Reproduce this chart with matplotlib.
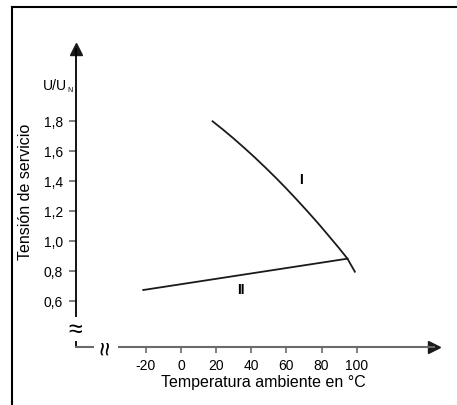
import matplotlib
matplotlib.use("Agg")
import matplotlib.pyplot as plt
from matplotlib.lines import Line2D

plt.rcParams["font.family"] = ["Liberation Sans", "DejaVu Sans"]

# curve I: operating voltage limit
temp_i = [18, 24, 30, 36, 42, 48, 54, 60, 66, 72, 78, 84, 90, 94.7, 98.9]
volt_i = [1.798, 1.742, 1.683, 1.621, 1.557, 1.490, 1.421, 1.349, 1.274,
          1.197, 1.118, 1.035, 0.951, 0.882, 0.795]
# curve II: straight line
temp_ii = [-21.4, 94.7]
volt_ii = [0.673, 0.882]

xticks = [-20, 0, 20, 40, 60, 80, 100]
yticks = [0.6, 0.8, 1.0, 1.2, 1.4, 1.6, 1.8]
ytick_labels = ["0,6", "0,8", "1,0", "1,2", "1,4", "1,6", "1,8"]

W, H = 457, 406
fig = plt.figure(figsize=(W / 100, H / 100), dpi=100)

# frame lines (top + left only)
fig.add_artist(Line2D([11.5 / W, 1.0], [1 - 8 / H, 1 - 8 / H], color="black", lw=1.5))
fig.add_artist(Line2D([11.5 / W, 11.5 / W], [0, 1 - 8 / H], color="black", lw=1.5))

x0, x1 = 75.7, 434
y0, y1 = 348, 50
ax = fig.add_axes([x0 / W, 1 - y0 / H, (x1 - x0) / W, (y0 - y1) / H])
ax.set_xlim(-59.8, 143.9)
ax.set_ylim(0.293, 2.28)

for s in ("top", "right"):
    ax.spines[s].set_visible(False)
ax.spines["left"].set_color("black")
ax.spines["left"].set_linewidth(1.3)
ax.spines["bottom"].set_color("#6a6a6a")
ax.spines["bottom"].set_linewidth(1.5)

# arrow heads
ax.plot(1, 0, ">", transform=ax.transAxes, color="#1a1a1a", ms=8, clip_on=False)
ax.plot(0, 1, "^", transform=ax.transAxes, color="#1a1a1a", ms=8, clip_on=False)

ax.set_xticks(xticks)
ax.set_xticklabels([str(t) for t in xticks], fontsize=10)
ax.set_yticks(yticks)
ax.set_yticklabels(ytick_labels, fontsize=10)
ax.tick_params(axis="x", length=4.5, width=1.2, color="#6a6a6a", pad=3.5)
ax.tick_params(axis="y", length=5, width=1.2, color="#6a6a6a", pad=4)

ax.plot(temp_i, volt_i, color="#1a1a1a", lw=1.3, solid_joinstyle="round")
ax.plot(temp_ii, volt_ii, color="#1a1a1a", lw=1.3)

ax.text(68.2, 1.413, "I", fontsize=10, fontweight="bold", ha="center", va="center")
ax.text(34.0, 0.68, "II", fontsize=10, fontweight="bold", ha="center", va="center")

# axis breaks
ax.text(-59.8, 0.413, "\u2248", fontsize=18, ha="center", va="center",
        bbox=dict(fc="white", ec="none", pad=0.0), clip_on=False)
ax.text(-42.5, 0.293, "\u2248", fontsize=18, ha="center", va="center",
        rotation=90, bbox=dict(fc="white", ec="none", pad=0.0), clip_on=False)

# unit label
fig.text(67 / W, 1 - 86 / H, "U/U", fontsize=10, ha="right", va="center")
fig.text(67.5 / W, 1 - 90 / H, "N", fontsize=5, ha="left", va="center")

fig.text(26 / W, 1 - 192 / H, "Tensión de servicio", fontsize=11.5,
         rotation=90, ha="center", va="center")
fig.text(263 / W, 1 - 383 / H, "Temperatura ambiente en °C", fontsize=11.5,
         ha="center", va="center")

fig.savefig("out.png", dpi=100)
